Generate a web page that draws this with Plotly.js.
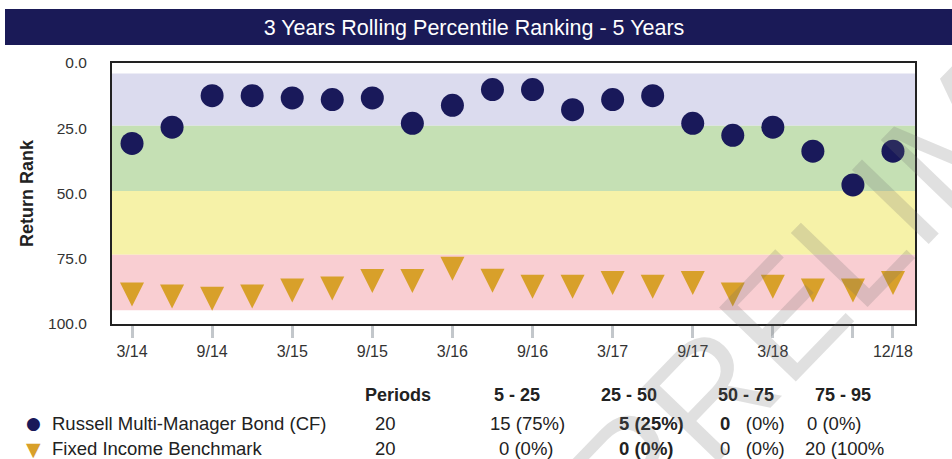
<!DOCTYPE html>
<html><head><meta charset="utf-8">
<script src="https://cdn.plot.ly/plotly-3.0.1.min.js"></script>
<style>html,body{margin:0;padding:0;background:#fff;} #chart{width:952px;height:459px;}</style>
</head><body><div id="chart"></div>
<script>
// ---- data ----
const periods = ['3/14','6/14','9/14','12/14','3/15','6/15','9/15','12/15','3/16','6/16','9/16','12/16','3/17','6/17','9/17','12/17','3/18','6/18','9/18','12/18'];
const tickPeriods = ['3/14','9/14','3/15','9/15','3/16','9/16','3/17','9/17','3/18','9/18','12/18'];
const tickLabels = ['3/14','9/14','3/15','9/15','3/16','9/16','3/17','9/17','3/18','','12/18'];
const fundRank = [30.8,24.6,12.5,12.5,13.4,14.0,13.4,23.1,16.2,10.2,10.2,17.9,14.0,12.5,23.1,27.7,24.6,33.8,46.7,33.8];
const benchRank = [93.3,94.1,94.9,94.1,91.8,91.0,88.1,88.1,83.4,88.0,90.3,90.3,88.9,90.3,88.9,93.3,90.3,91.8,91.8,88.9];
const seriesNames = ['Russell Multi-Manager Bond (CF)','Fixed Income Benchmark'];
const yTickVals = [0,25,50,75,100];
const yTickMarks = [25,50,75];
const bandEdges = [4, 24, 49, 73.5, 94.7];
const bandHeaders = ['5 - 25','25 - 50','50 - 75','75 - 95'];
const periodCounts = ['20','20'];
const fundCells = ['15 (75%)','<b>5 (25%)</b>','<b>0</b>\u00a0\u00a0\u00a0(0%)','0 (0%)'];
const benchCells = ['0 (0%)','<b>0 (0%)</b>','0\u00a0\u00a0\u00a0(0%)','20 (100%'];
const watermarkText = 'PRELIMINARY';

// ---- styles / layout ----
const NAVY = '#19195a', GOLD = '#d8a02a';
const bandColors = ['#dbdbee','#c5e0b4','#f6f2a8','#f9ced2'];
const W = 952, H = 459, PL = 112, PR = 915, PT = 63, PB = 324;
const px = x => (x - PL) / (PR - PL);
const py = y => (PB - y) / (PB - PT);
const FONT = 'Liberation Sans, Arial, sans-serif';

const traces = [
  {x: periods, y: fundRank, type: 'scatter', mode: 'markers', name: seriesNames[0],
   marker: {symbol: 'circle', size: 23, color: NAVY, line: {width: 0}}, showlegend: false},
  {x: periods, y: benchRank, type: 'scatter', mode: 'markers', name: seriesNames[1],
   marker: {symbol: 'arrow-down', size: 24, color: GOLD, line: {width: 0}}, showlegend: false}
];

const shapes = [
  {type: 'rect', xref: 'paper', yref: 'paper', x0: px(5), x1: px(952), y0: py(45), y1: py(9),
   fillcolor: '#1a1a57', line: {width: 0}, layer: 'below'}
];
for (let i = 0; i < 4; i++) {
  shapes.push({type: 'rect', xref: 'paper', yref: 'y', x0: 0, x1: 1, y0: bandEdges[i], y1: bandEdges[i+1],
    fillcolor: bandColors[i], line: {width: 0}, layer: 'below'});
}

const annotations = [];
const TXT = '#222';
function ann(text, x, y, opts) {
  annotations.push(Object.assign({text: text, xref: 'paper', yref: 'paper', x: px(x), y: py(y),
    xanchor: 'left', yanchor: 'middle', showarrow: false,
    font: {family: FONT, size: 18.5, color: TXT}}, opts || {}));
}
const HEAD = {font: {family: FONT, size: 18, color: TXT}};
// header row
ann('<b>Periods</b>', 363, 395, HEAD);
const headX = [492, 599, 716, 813];
bandHeaders.forEach((h, i) => ann('<b>' + h + '</b>', headX[i], 395, HEAD));
// legend rows
const rowY = [423, 448];
ann('\u25CF', 33, rowY[0], {xanchor: 'center', font: {family: 'DejaVu Sans', size: 17, color: NAVY}});
ann('\u25BC', 33, rowY[1] + 1, {xanchor: 'center', font: {family: 'DejaVu Sans', size: 19, color: GOLD}});
seriesNames.forEach((n, i) => ann(n, 50, rowY[i]));
periodCounts.forEach((n, i) => ann(n, 373, rowY[i]));
const fundX = [488, 617, 718, 805];
const benchX = [497, 617, 718, 803];
fundCells.forEach((t, i) => ann(t, fundX[i], rowY[0]));
benchCells.forEach((t, i) => ann(t, benchX[i], rowY[1]));
// watermark
annotations.push({text: watermarkText, xref: 'paper', yref: 'paper', x: px(963), y: py(131.5),
  xanchor: 'center', yanchor: 'middle', showarrow: false, textangle: -46,
  font: {family: FONT, size: 155, color: 'rgba(110,110,110,0.21)'}});

const layout = {
  width: W, height: H,
  margin: {l: PL, r: W - PR, t: PT, b: H - PB, pad: 0},
  paper_bgcolor: '#fff', plot_bgcolor: '#fff',
  showlegend: false,
  title: {text: '3 Years Rolling Percentile Ranking - 5 Years', xref: 'container', yref: 'container',
    x: 474 / W, xanchor: 'center', y: 1 - 27 / H, yanchor: 'middle',
    font: {family: FONT, size: 21.5, color: '#ffffff'}},
  xaxis: {type: 'category', categoryorder: 'array', categoryarray: periods,
    range: [-0.5, 19.55], tickmode: 'array', tickvals: tickPeriods, ticktext: tickLabels,
    ticks: 'outside', ticklen: 12, tickwidth: 3, tickcolor: '#c3c7cb',
    showline: true, mirror: true, linecolor: '#222', linewidth: 2, showgrid: false, zeroline: false,
    tickfont: {family: FONT, size: 16, color: '#333'}, fixedrange: true},
  yaxis: {range: [100, 0], tickmode: 'array', tickvals: yTickVals, tickformat: '.1f',
    ticks: 'outside', ticklen: 20, tickwidth: 3, tickcolor: 'rgba(0,0,0,0)',
    showline: true, mirror: true, linecolor: '#222', linewidth: 2, showgrid: false, zeroline: false,
    tickfont: {family: FONT, size: 15.5, color: '#333'},
    title: {text: 'Return Rank', standoff: 10, font: {family: FONT, size: 18, color: '#222', weight: 'bold'}},
    automargin: false, fixedrange: true},
  yaxis2: {range: [100, 0], overlaying: 'y', side: 'left', tickmode: 'array', tickvals: yTickMarks,
    showticklabels: false, ticks: 'outside', ticklen: 12, tickwidth: 3, tickcolor: '#c3c7cb',
    showline: false, showgrid: false, zeroline: false, fixedrange: true},
  shapes: shapes,
  annotations: annotations
};

Plotly.newPlot('chart', traces, layout, {displayModeBar: false, staticPlot: true});
</script>
</body></html>
